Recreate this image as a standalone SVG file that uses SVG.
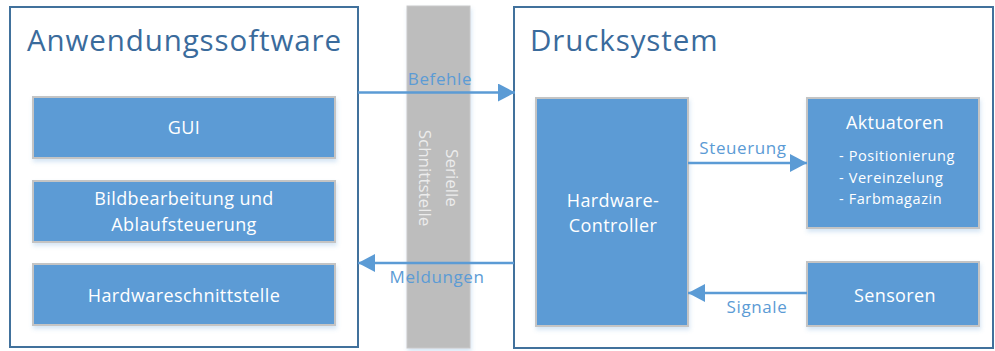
<svg xmlns="http://www.w3.org/2000/svg" width="995" height="351" viewBox="0 0 995 351">
<defs>
<filter id="sh" x="-10%" y="-10%" width="125%" height="130%">
<feGaussianBlur in="SourceAlpha" stdDeviation="2"/>
<feOffset dx="1" dy="3" result="b"/>
<feFlood flood-color="#5b9bd5" flood-opacity="0.25"/>
<feComposite in2="b" operator="in"/>
<feMerge><feMergeNode/><feMergeNode in="SourceGraphic"/></feMerge>
</filter>
<marker id="ah" viewBox="0 0 17 18" refX="17" refY="9" markerWidth="17" markerHeight="18" markerUnits="userSpaceOnUse" orient="auto">
<path d="M0,0 L17,9 L0,18 Z" fill="#5b9bd5"/>
</marker>
</defs>
<style>
.cont{fill:#fff;stroke:#41719c;stroke-width:2}
.box{fill:#5b9bd5;stroke:#c4c4c4;stroke-width:2}
.title{font-family:"Open Sans",sans-serif;font-size:29.5px;letter-spacing:0.9px;fill:#3a6b9c}
.bt{font-family:"Open Sans",sans-serif;font-size:18px;letter-spacing:0.4px;fill:#fff;text-anchor:middle}
.st{font-family:"Open Sans",sans-serif;font-size:14.5px;letter-spacing:0.6px;fill:#fff}
.lbl{font-family:"Open Sans",sans-serif;font-size:17px;letter-spacing:0.6px;fill:#5b9bd5;text-anchor:middle}
.rot{font-family:"Open Sans",sans-serif;font-size:17px;fill:#ececec;text-anchor:middle}
.arr{stroke:#5b9bd5;stroke-width:2.5;fill:none;marker-end:url(#ah)}
</style>
<g id="anwendungssoftware">
<rect class="cont" x="10" y="7" width="348" height="340"/>
<text class="title" x="27" y="51">Anwendungssoftware</text>
</g>
<g id="schnittstelle">
<rect x="407" y="6" width="63" height="342" fill="#bdbdbd" stroke="#c9c9c9" stroke-width="1" filter="url(#sh)"/>
<text class="rot" transform="translate(452,178) rotate(90)" y="6">Serielle</text>
<text class="rot" transform="translate(425,178) rotate(90)" y="6">Schnittstelle</text>
</g>
<g id="drucksystem">
<rect class="cont" x="514" y="7" width="479" height="341"/>
<text class="title" x="530" y="51">Drucksystem</text>
</g>
<g id="gui">
<rect class="box" x="33" y="97" width="302" height="61" filter="url(#sh)"/>
<text class="bt" x="184" y="134">GUI</text>
</g>
<g id="bildbearbeitung">
<rect class="box" x="33" y="181" width="302" height="61" filter="url(#sh)"/>
<text class="bt" x="184" y="205">Bildbearbeitung und</text>
<text class="bt" x="184" y="231">Ablaufsteuerung</text>
</g>
<g id="hardwareschnittstelle">
<rect class="box" x="33" y="264" width="302" height="61" filter="url(#sh)"/>
<text class="bt" x="184" y="302">Hardwareschnittstelle</text>
</g>
<g id="controller">
<rect class="box" x="536" y="98" width="152" height="228" filter="url(#sh)"/>
<text class="bt" x="613" y="207">Hardware-</text>
<text class="bt" x="613" y="232">Controller</text>
</g>
<g id="aktuatoren">
<rect class="box" x="807" y="98" width="172" height="130" filter="url(#sh)"/>
<text class="bt" x="895" y="129">Aktuatoren</text>
<text class="st" x="839" y="161">- Positionierung</text>
<text class="st" x="839" y="183">- Vereinzelung</text>
<text class="st" x="839" y="204">- Farbmagazin</text>
</g>
<g id="sensoren">
<rect class="box" x="807" y="262" width="172" height="64" filter="url(#sh)"/>
<text class="bt" x="895" y="302">Sensoren</text>
</g>
<g id="connectors">
<line class="arr" x1="358" y1="92.5" x2="515" y2="92.5"/>
<text class="lbl" x="440" y="85">Befehle</text>
<line class="arr" x1="514" y1="263" x2="358" y2="263"/>
<text class="lbl" x="437" y="283">Meldungen</text>
<line class="arr" x1="688" y1="163" x2="807" y2="163"/>
<text class="lbl" x="743" y="154">Steuerung</text>
<line class="arr" x1="807" y1="293" x2="688" y2="293"/>
<text class="lbl" x="757" y="313">Signale</text>
</g>
</svg>
